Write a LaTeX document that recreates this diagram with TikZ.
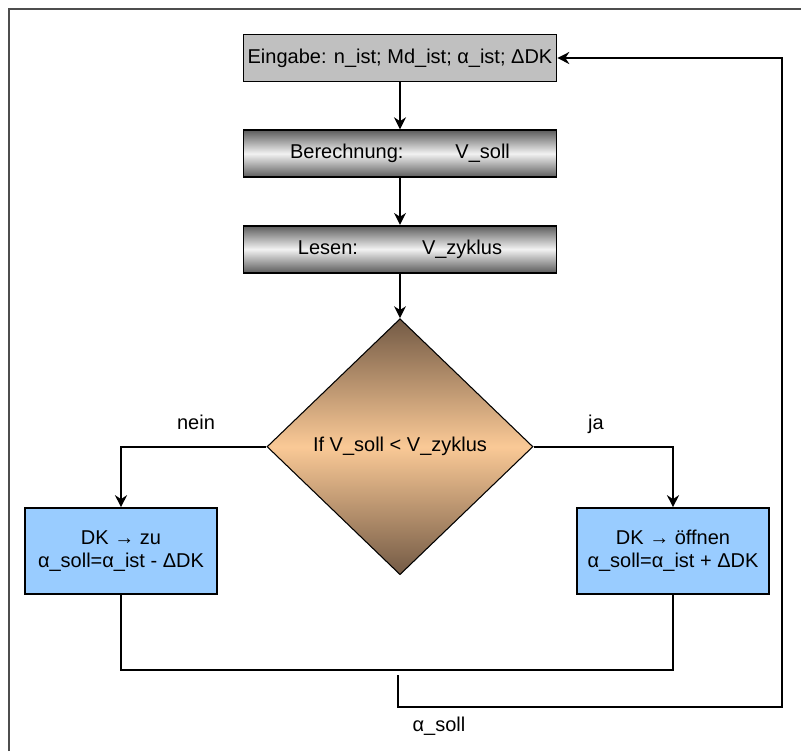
\documentclass[tikz,border=0pt]{standalone}
\usepackage{fontspec}
\setmainfont{Liberation Sans}
\usetikzlibrary{arrows.meta, positioning, shapes.geometric}

\definecolor{inputgray}{HTML}{C0C0C0}
\definecolor{shadegray}{HTML}{5C5C5C}
\definecolor{diamondbrown}{HTML}{735A45}
\definecolor{diamondpeach}{HTML}{FAC996}
\definecolor{actionblue}{HTML}{99CCFF}
\definecolor{framegray}{HTML}{4D4D4D}

\begin{document}
\begin{tikzpicture}[
            x=0.75pt, y=-0.75pt,
            node distance=35.25pt,
            every node/.style={font=\fontsize{15}{17}\selectfont},
            box/.style={
                    draw,
                    line width=1.2pt,
                    minimum width=234.75pt,
                    minimum height=35.25pt,
                    inner sep=0pt,
                    align=center
                },
            inputbox/.style={
                    box,
                    fill=inputgray
                },
            stepbox/.style={
                    box,
                    top color=shadegray,
                    bottom color=shadegray,
                    middle color=white!95!black
                },
            decision/.style={
                    draw,
                    diamond,
                    line width=0.8pt,
                    minimum width=199.5pt,
                    minimum height=192pt,
                    inner sep=0pt,
                    top color=diamondbrown,
                    bottom color=diamondbrown,
                    middle color=diamondpeach
                },
            action/.style={
                    draw,
                    line width=1.2pt,
                    minimum width=144pt,
                    minimum height=64.5pt,
                    inner sep=0pt,
                    align=center,
                    fill=actionblue
                },
            tag/.style={
                    anchor=base,
                    inner sep=0pt
                },
            flow/.style={
                    line width=1.2pt
                },
            arrow/.style={
                    -{Stealth[length=9pt,width=9pt]},
                    line width=1.2pt
                }
        ]

        \useasboundingbox (0,0) rectangle (801,751);
        \draw[framegray, line width=1.5pt] (9,751) -- (9,9) -- (801,9);

        \node[inputbox] (input) at (400,58)
        {Eingabe: n\_ist; Md\_ist; α\_ist; ΔDK};

        \node[stepbox, below=of input] (calc)
        {Berechnung:\hspace{39pt}V\_soll};

        \node[stepbox, below=of calc] (read)
        {Lesen:\hspace{48pt}V\_zyklus};

        \node[decision, below=33.5pt of read] (decision)
        {If V\_soll < V\_zyklus};

        \node[action] (close) at (121,551)
        {DK → zu\\
        α\_soll=α\_ist - ΔDK};

        \node[action] (open) at (673,551)
        {DK → öffnen\\
        α\_soll=α\_ist + ΔDK};

        \node[tag] (nein) at (196,429) {nein};
        \node[tag] (ja) at (596,429) {ja};
        \node[tag] (asoll) at (439,731) {α\_soll};

        \coordinate (loopstart) at (398,675);
        \coordinate (loopturn) at (782,707);

        \draw[arrow] (input) -- (calc);
        \draw[arrow] (calc) -- (read);
        \draw[arrow] (read) -- (decision);

        \draw[arrow] (decision.west) -| (close.north);
        \draw[arrow] (decision.east) -| (open.north);

        \draw[flow] (close.south) -- ++(0,75) -| (open.south);
        \draw[arrow] (loopstart) |- (loopturn) |- (input.east);

    \end{tikzpicture}
\end{document}
